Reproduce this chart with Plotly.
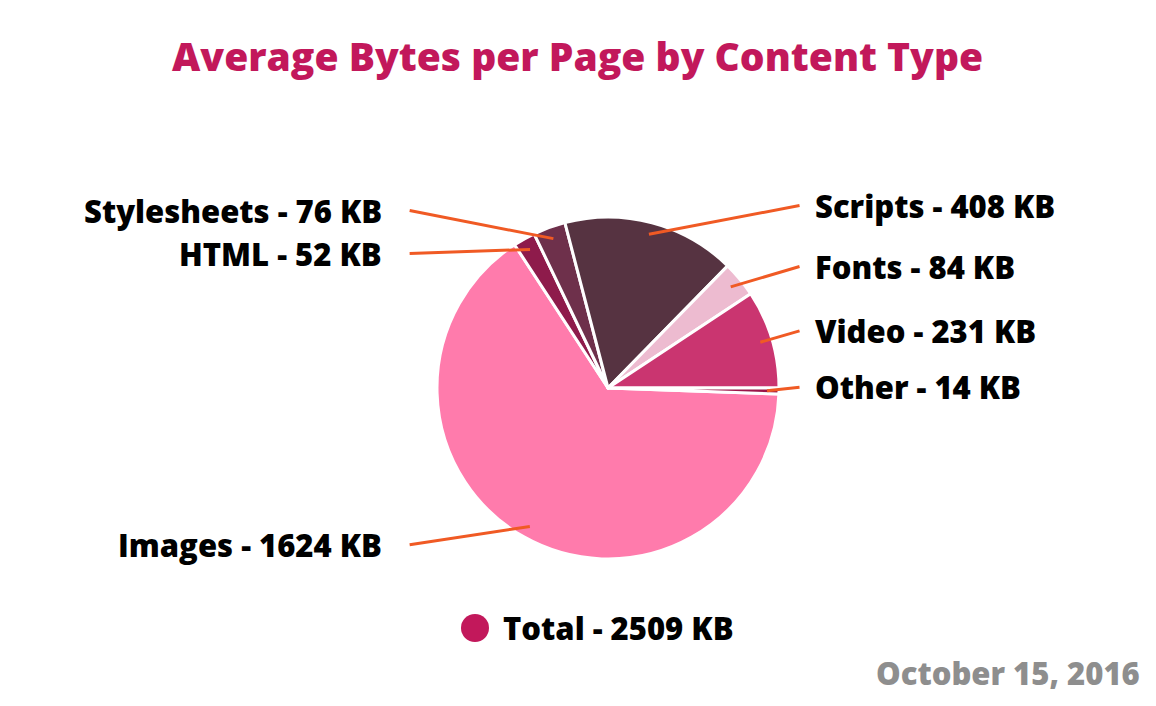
import math
import plotly.graph_objects as go

# ---- data ----
categories = ["Images", "HTML", "Stylesheets", "Scripts", "Fonts", "Video", "Other"]
sizes_kb = [1624, 52, 76, 408, 84, 231, 14]
total_kb = 2509
title_text = "Average Bytes per Page by Content Type"
date_text = "October 15, 2016"

# ---- styles ----
colors = ["#FF7BAC", "#8E1B4B", "#6E304B", "#563341", "#EDBBD0", "#CA3570", "#9B1549"]
W, H = 1156, 706
OFF = 8  # page body margin
CX, CY, R = 608, 388, 171
ROT = 92
FONT = "Open Sans"
LEADER = "#F05A24"

def px(x):
    return (x - OFF) / W

def py(y):
    return 1 - (y - OFF) / H

fig = go.Figure(go.Pie(
    labels=categories, values=sizes_kb, sort=False, direction="clockwise",
    rotation=ROT, textinfo="none", hoverinfo="label+value",
    marker=dict(colors=colors, line=dict(color="white", width=3)),
    domain=dict(x=[px(CX - R), px(CX + R)], y=[py(CY + R), py(CY - R)]),
    showlegend=False,
))

# compute slice mid angles from data
tot = sum(sizes_kb)
cum = 0
items = []
for name, v in zip(categories, sizes_kb):
    mid = ROT + (cum + v / 2) / tot * 360
    cum += v
    th = math.radians(mid)
    s, c = math.sin(th), math.cos(th)
    items.append(dict(name=name, v=v, s=s, c=c, right=s > 0,
                      ly=CY - 1.08 * R * c - 4))

# simple collision avoidance per side
GAP = 43
for side in (True, False):
    grp = sorted([it for it in items if it["right"] == side], key=lambda d: d["ly"])
    for i in range(1, len(grp)):
        if grp[i]["ly"] - grp[i - 1]["ly"] < GAP:
            grp[i]["ly"] = grp[i - 1]["ly"] + GAP

shapes = []
annotations = []
for it in items:
    x0 = CX + 0.93 * R * it["s"]
    y0 = CY - 0.93 * R * it["c"]
    if it["right"]:
        x1 = CX + 1.12 * R
        tx = CX + 1.20 * R
        anchor = "left"
    else:
        x1 = CX - 1.16 * R
        tx = CX - 1.31 * R
        anchor = "right"
    shapes.append(dict(type="line", xref="paper", yref="paper",
                       x0=px(x0), y0=py(y0), x1=px(x1), y1=py(it["ly"]),
                       line=dict(color=LEADER, width=3), layer="above"))
    annotations.append(dict(xref="paper", yref="paper", x=px(tx), y=py(it["ly"]),
                            xanchor=anchor, yanchor="middle", showarrow=False,
                            text=f"{it['name']} - {it['v']} KB",
                            font=dict(family=FONT, size=31, color="black", weight=800)))

# title
annotations.append(dict(xref="paper", yref="paper", x=px(577), y=py(55),
                        xanchor="center", yanchor="middle", showarrow=False,
                        text=title_text,
                        font=dict(family=FONT, size=39, color="#C2185B", weight=800)))
# total legend
shapes.append(dict(type="circle", xref="paper", yref="paper",
                   x0=px(461), x1=px(489), y0=py(642), y1=py(614),
                   fillcolor="#C2185B", line=dict(width=0)))
annotations.append(dict(xref="paper", yref="paper", x=px(501), y=py(628),
                        xanchor="left", yanchor="middle", showarrow=False,
                        text=f"Total - {total_kb} KB",
                        font=dict(family=FONT, size=31, color="black", weight=800)))
# date
annotations.append(dict(xref="paper", yref="paper", x=px(1142), y=py(673),
                        xanchor="right", yanchor="middle", showarrow=False,
                        text=date_text,
                        font=dict(family=FONT, size=31, color="#8E8E8E", weight=800)))

fig.update_layout(width=W, height=H, margin=dict(l=0, r=0, t=0, b=0),
                  paper_bgcolor="white", plot_bgcolor="white",
                  shapes=shapes, annotations=annotations)

fig.write_html("out.html")
